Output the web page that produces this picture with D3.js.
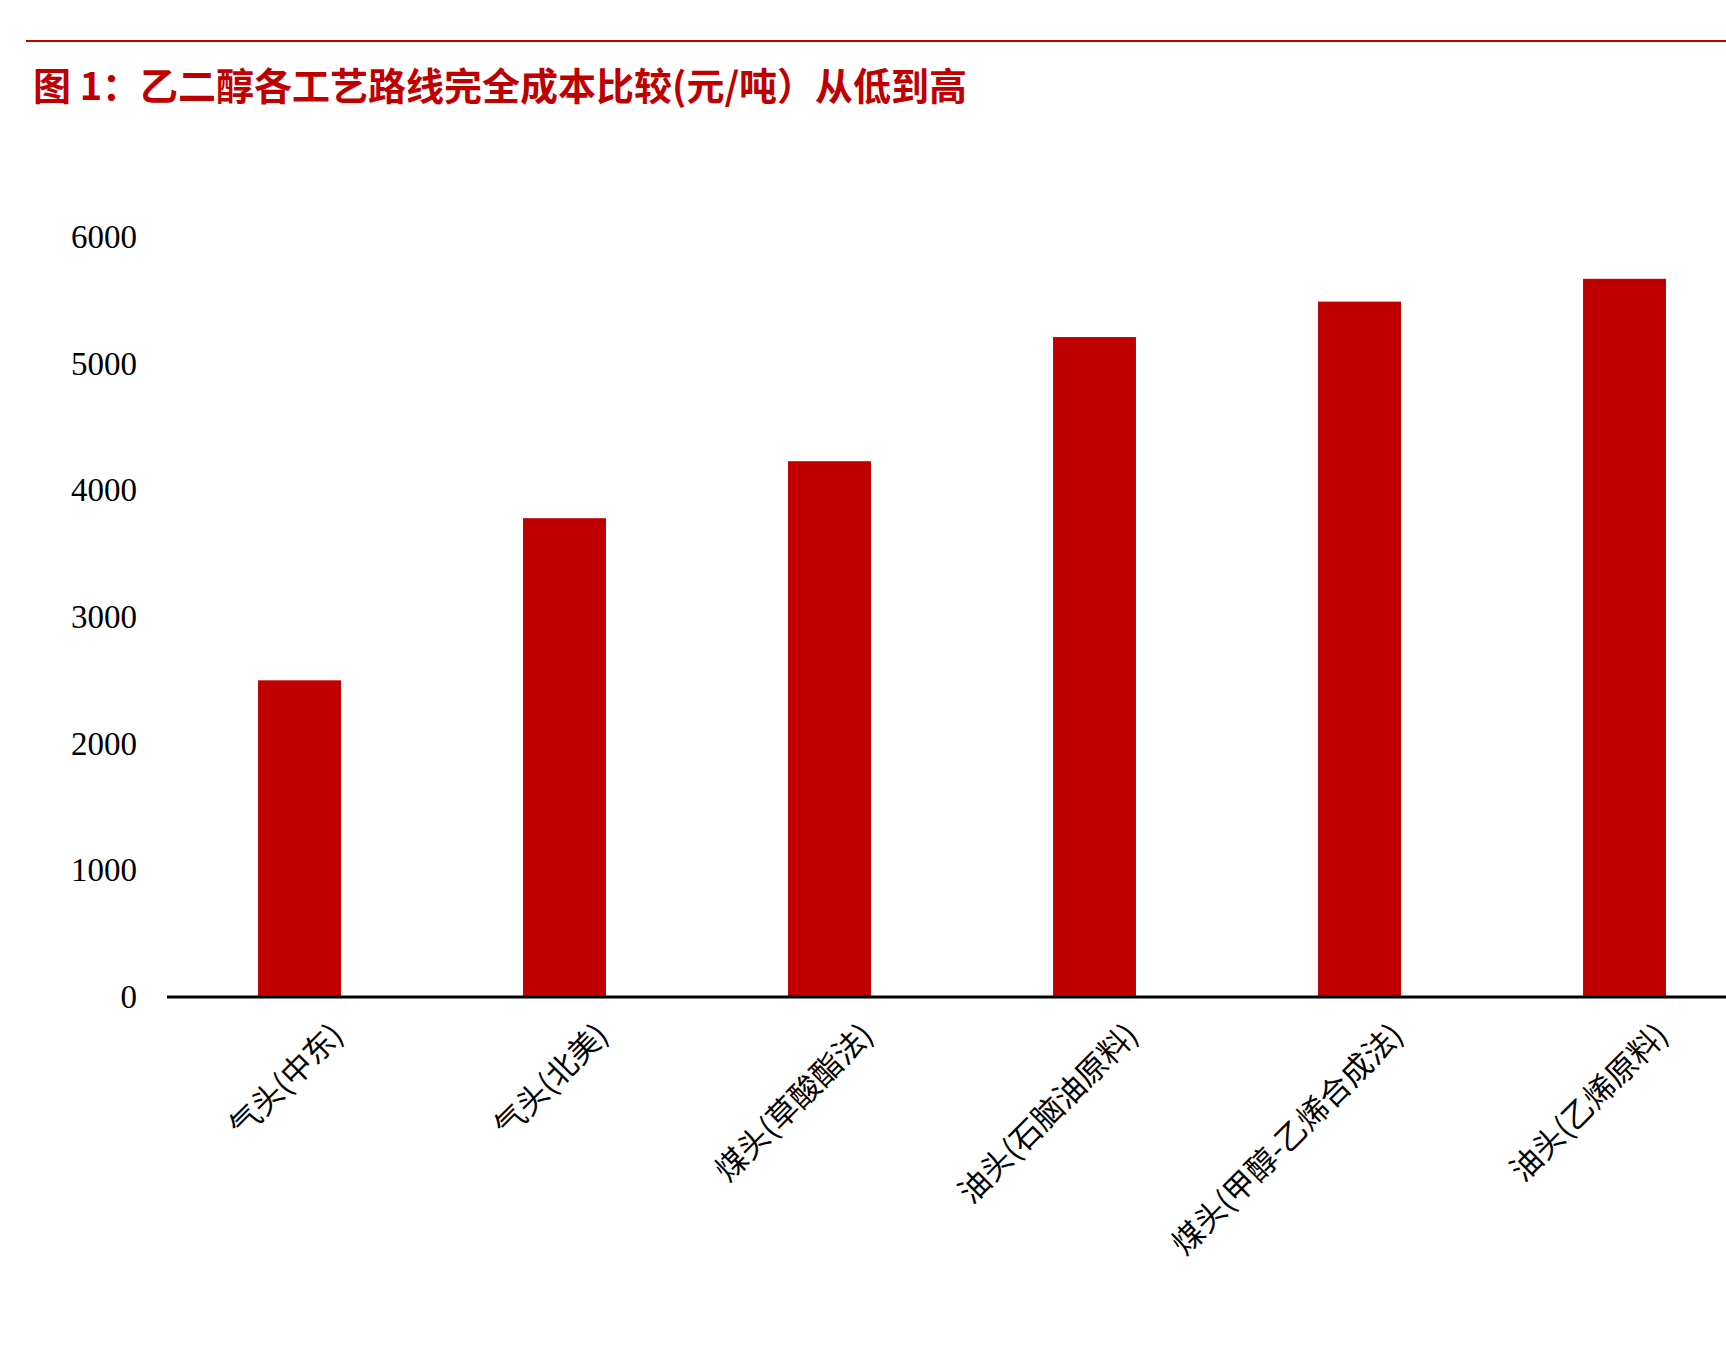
<!DOCTYPE html><html><head><meta charset="utf-8"><script src="https://cdn.jsdelivr.net/npm/d3@7"></script>
<style>body{margin:0;background:#fff}</style></head><body><svg id="c" width="1726" height="1366"></svg>
<script>
const categories=["气头(中东)","气头(北美)","煤头(草酸酯法)","油头(石脑油原料)","煤头(甲醇-乙烯合成法)","油头(乙烯原料)"];
const values=[2500,3780,4230,5210,5490,5670];
const yTicks=[0,1000,2000,3000,4000,5000,6000];
const title="图 1：乙二醇各工艺路线完全成本比较(元/吨）从低到高";
const svg=d3.select("#c");
svg.append("line").attr("x1",26).attr("x2",1726).attr("y1",41).attr("y2",41).attr("stroke","#c00000").attr("stroke-width",2);
svg.append("text").attr("x",33).attr("y",100).text(title).attr("fill","#c00000").attr("font-size",38).attr("font-weight","bold").attr("font-family","Noto Sans CJK SC");
const x=d3.scaleBand().domain(categories).range([167,1757]).paddingInner(0.687).paddingOuter(0.3435);
const y=d3.scaleLinear().domain([0,6000]).range([997,237]);
svg.selectAll("rect").data(values).join("rect").attr("x",(d,i)=>x(categories[i])).attr("width",x.bandwidth()).attr("y",d=>y(d)).attr("height",d=>y(0)-y(d)).attr("fill","#c00000");
const ya=svg.append("g").attr("transform","translate(137,0)").call(d3.axisLeft(y).tickValues(yTicks).tickSize(0).tickPadding(0).tickFormat(d3.format("d")));
ya.select(".domain").remove();
ya.selectAll("text").attr("font-size",33).attr("font-family","Liberation Serif").attr("fill","#000");
svg.append("line").attr("x1",167).attr("x2",1726).attr("y1",997).attr("y2",997).attr("stroke","#000").attr("stroke-width",3);
const xa=svg.append("g").attr("transform","translate(0,997)").call(d3.axisBottom(x).tickSize(0).tickPadding(0));
xa.select(".domain").remove();
xa.selectAll("text").attr("font-size",31).attr("font-family","Noto Sans CJK SC").attr("fill","#000").attr("text-anchor","end").attr("dy",0)
  .attr("transform",d=>`translate(${x.bandwidth()/2+4},40) rotate(-45)`).attr("x",0).attr("y",0);
</script></body></html>
